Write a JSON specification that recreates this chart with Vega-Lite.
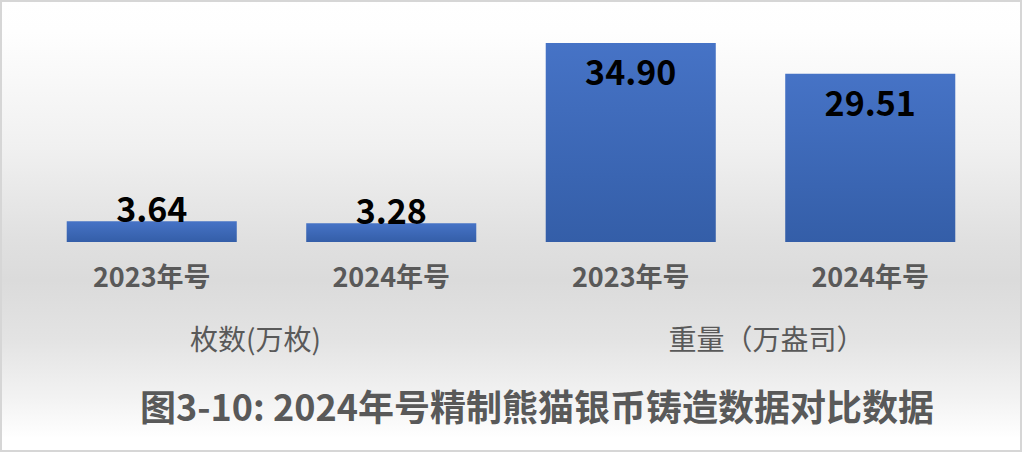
{
  "$schema": "https://vega.github.io/schema/vega-lite/v6.json",
  "width": 1022,
  "height": 452,
  "padding": 0,
  "autosize": {"type": "none"},
  "datasets": {
    "bars": [
      {"item": "2023年号 ", "label": "2023年号", "group": "枚数(万枚)", "value": 3.64},
      {"item": "2024年号 ", "label": "2024年号", "group": "枚数(万枚)", "value": 3.28},
      {"item": "2023年号", "label": "2023年号", "group": "重量（万盎司）", "value": 34.90},
      {"item": "2024年号", "label": "2024年号", "group": "重量（万盎司）", "value": 29.51}
    ],
    "groups": [
      {"group": "枚数(万枚)"},
      {"group": "重量（万盎司）"}
    ],
    "bg": [{}]
  },
  "title": {
    "text": "图3-10: 2024年号精制熊猫银币铸造数据对比数据",
    "orient": "bottom",
    "anchor": "middle",
    "offset": -61,
    "dx": 26,
    "font": "Noto Sans CJK SC",
    "fontSize": 36,
    "fontWeight": "bold",
    "color": "#595959"
  },
  "layer": [
    {
      "data": {"name": "bg"},
      "mark": {
        "type": "rect",
        "stroke": "#d6d6d6",
        "strokeWidth": 4,
        "fill": {
          "gradient": "linear",
          "x1": 0, "y1": 0, "x2": 0, "y2": 1,
          "stops": [
            {"offset": 0, "color": "#ffffff"},
            {"offset": 0.07, "color": "#fefefe"},
            {"offset": 0.33, "color": "#f0f0f0"},
            {"offset": 0.53, "color": "#e0e0e0"},
            {"offset": 0.62, "color": "#dbdbdb"},
            {"offset": 0.75, "color": "#e3e3e3"},
            {"offset": 0.885, "color": "#f3f3f3"},
            {"offset": 0.97, "color": "#ffffff"},
            {"offset": 1, "color": "#ffffff"}
          ]
        }
      },
      "encoding": {}
    },
    {
      "data": {"name": "bars"},
      "layer": [
        {
          "mark": {
            "type": "bar",
            "fill": {
              "gradient": "linear",
              "x1": 0, "y1": 0, "x2": 0, "y2": 1,
              "stops": [
                {"offset": 0, "color": "#4673c6"},
                {"offset": 1, "color": "#345ea8"}
              ]
            }
          }
        },
        {
          "transform": [{"filter": "datum.value > 10"}],
          "mark": {
            "type": "text",
            "baseline": "top",
            "dy": 15,
            "font": "Noto Sans CJK SC",
            "fontSize": 34,
            "fontWeight": "bold",
            "color": "#000000"
          },
          "encoding": {"text": {"field": "value", "type": "quantitative", "format": ".2f"}}
        },
        {
          "transform": [{"filter": "datum.value <= 10"}],
          "mark": {
            "type": "text",
            "baseline": "alphabetic",
            "dy": 1,
            "font": "Noto Sans CJK SC",
            "fontSize": 34,
            "fontWeight": "bold",
            "color": "#000000"
          },
          "encoding": {"text": {"field": "value", "type": "quantitative", "format": ".2f"}}
        }
      ],
      "encoding": {
        "x": {
          "field": "item",
          "type": "nominal",
          "sort": null,
          "scale": {"paddingInner": 0.29, "paddingOuter": 0.2786},
          "axis": {
            "orient": "bottom",
            "offset": -187,
            "zindex": 2,
            "title": null,
            "domain": false,
            "ticks": false,
            "grid": false,
            "labelPadding": 0,
            "labelAngle": 0,
            "labelExpr": "trim(datum.label)",
            "labelFont": "Noto Sans CJK SC",
            "labelFontSize": 27,
            "labelFontWeight": "bold",
            "labelColor": "#595959"
          }
        },
        "y": {
          "field": "value",
          "type": "quantitative",
          "scale": {"domain": [-36.84, 42.46], "nice": false, "zero": false},
          "axis": null
        }
      }
    },
    {
      "data": {"name": "groups"},
      "mark": {
        "type": "text",
        "baseline": "middle",
        "font": "Noto Sans CJK SC",
        "fontSize": 28,
        "color": "#595959"
      },
      "encoding": {
        "x": {
          "field": "group",
          "type": "nominal",
          "sort": null,
          "scale": {"paddingInner": 0, "paddingOuter": 0.0668},
          "axis": null
        },
        "y": {"datum": -17.5, "type": "quantitative"},
        "text": {"field": "group"}
      }
    }
  ],
  "resolve": {"scale": {"x": "independent"}, "axis": {"x": "independent"}},
  "config": {
    "background": "#ffffff",
    "view": {"stroke": null}
  }
}
